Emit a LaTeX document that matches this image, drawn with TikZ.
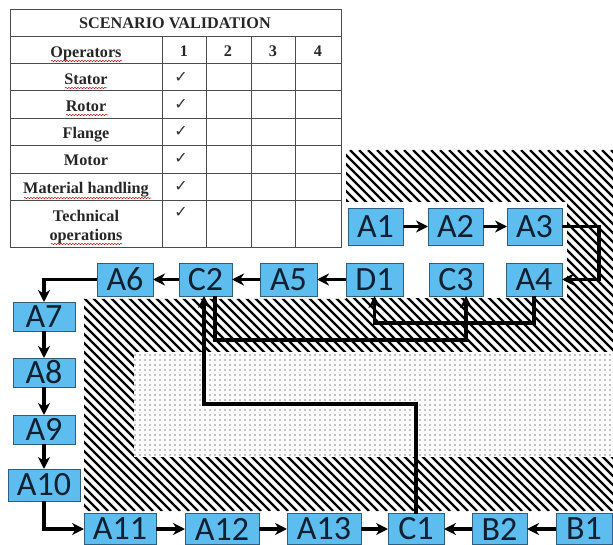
\documentclass[tikz,border=0pt]{standalone}
\usepackage{fontspec}
\setmainfont{Liberation Serif}
\newfontfamily\boxfont{Carlito}
\newfontfamily\tickfont{DejaVu Sans}
\usetikzlibrary{arrows.meta,positioning,patterns.meta,decorations.pathmorphing}
\definecolor{boxblue}{HTML}{5DBDEE}
\definecolor{boxedge}{HTML}{2F5F80}
\definecolor{boxtext}{HTML}{0F2030}

\begin{document}
\begin{tikzpicture}[x=1pt, y=-1pt, >=Stealth, blk/.style={rectangle, draw=boxedge, line width=0.8pt, outer sep=0pt, fill=boxblue, font=\boxfont\fontsize{34}{34}\selectfont, text=boxtext, inner sep=0pt, minimum width=55pt, minimum height=33pt}, wire/.style={line width=3.2pt, -{Stealth[length=12pt,width=12pt]}}, cell/.style={inner sep=0pt, anchor=base, font=\bfseries\fontsize{16.2}{21}\selectfont, align=center, text=black!85}, tick/.style={inner sep=0pt, font=\tickfont\fontsize{16}{16}\selectfont, text=black!80}, squig/.style={draw=red!75!black, line width=0.5pt, decorate, decoration={snake, amplitude=0.6pt, segment length=3pt}}]
\useasboundingbox (0,0) rectangle (613,545);
% zones behind the flow
\begin{scope}
\clip (346,150) -- (613,150) -- (613,511) -- (84,511) -- (84,299) -- (346,299) -- cycle;
\foreach \xa in {-280,-271,...,613} \draw[line width=2.2pt] (\xa,150) -- ++(361,361);
\end{scope}
\fill[white] (346,202) rectangle (567,298);
\fill[white] (134,352) rectangle (613,457);
\fill[pattern={Dots[distance=5pt, radius=0.65pt]}] (134,352) rectangle (613,457);
% table
\draw[black!70, line width=1pt] (10,10) rectangle (341,248);
\foreach \ya in {37,64,91,119,146,174,201} \draw[black!70, line width=1pt] (10,\ya) -- (341,\ya);
\foreach \xa in {162,206,251,295} \draw[black!70, line width=1pt] (\xa,37) -- (\xa,248);
\node[cell] (title) at (175,29) {SCENARIO VALIDATION};
\node[cell] (ops) at (86,58) {Operators};
\node[cell] (n1) at (184,57) {1};
\node[cell] (n2) at (228,57) {2};
\node[cell] (n3) at (273,57) {3};
\node[cell] (n4) at (318,57) {4};
\node[cell] (stator) at (86,85) {Stator};
\node[cell] (rotor) at (86,112) {Rotor};
\node[cell] (flange) at (86,139) {Flange};
\node[cell] (motor) at (86,166) {Motor};
\node[cell] (handling) at (86,194) {Material handling};
\node[cell, anchor=center] (tech) at (86,227.5) {Technical\\[-2pt]operations};
\foreach \ya/\nm in {77/t1,104/t2,131/t3,158/t4,186/t5,212/t6} \node[tick] (\nm) at (181,\ya) {\char"2713};
\draw[squig] (51,61) -- (122,61);
\draw[squig] (65,88) -- (107,88);
\draw[squig] (66,115) -- (108,115);
\draw[squig] (24,198) -- (151,198);
\draw[squig] (51,244) -- (122,244);
% top block
\node[blk, minimum height=37pt] (a1) at (375.5,226.5) {A1};
\node[blk, minimum height=37pt, right=25pt of a1] (a2) {A2};
\node[blk, minimum height=37pt, right=24pt of a2] (a3) {A3};
\node[blk, minimum width=56pt] (a4) at (534,279.5) {A4};
\node[blk, minimum width=54pt, left=23pt of a4] (c3) {C3};
\node[blk, minimum width=57pt, left=26pt of c3] (d1) {D1};
\node[blk, minimum width=57pt, left=29pt of d1] (a5) {A5};
\node[blk, minimum width=53pt, left=28pt of a5] (c2) {C2};
\node[blk, minimum width=56pt, left=26pt of c2] (a6) {A6};
% left column
\node[blk, minimum width=62pt, minimum height=29pt] (a7) at (44,316.5) {A7};
\node[blk, minimum width=62pt, minimum height=29pt, below=27pt of a7] (a8) {A8};
\node[blk, minimum width=62pt, minimum height=29pt, below=28pt of a8] (a9) {A9};
\node[blk, minimum width=72pt, minimum height=32pt] (a10) at (44,485) {A10};
% bottom row
\node[blk, minimum width=72pt, minimum height=31pt] (a11) at (120,529) {A11};
\node[blk, minimum width=74pt, minimum height=31pt, right=29pt of a11] (a12) {A12};
\node[blk, minimum width=74pt, minimum height=31pt, right=28pt of a12] (a13) {A13};
\node[blk, minimum width=56pt, minimum height=31pt, right=27pt of a13] (c1) {C1};
\node[blk, minimum height=31pt, right=28pt of c1] (b2) {B2};
\node[blk, minimum width=56pt, minimum height=31pt, right=29pt of b2] (b1) {B1};
% bends
\coordinate (turn3) at (599,226.5);
\coordinate (low4) at (534,323);
\coordinate (feedc3) at (466,340);
\coordinate (outc2) at (215,296);
\coordinate (inc3) at (466,296);
\coordinate (feedc2) at (204,404);
\coordinate (inc2) at (204,296);
% connectors
\draw[wire] (a1) -- (a2);
\draw[wire] (a2) -- (a3);
\draw[wire] (a3.east) -- (turn3) |- (a4.east);
\draw[wire] (a4.south) -- (low4) -| (d1.south);
\draw[wire] (d1) -- (a5);
\draw[wire] (a5) -- (c2);
\draw[wire] (c2) -- (a6);
\draw[wire] (a6.west) -| (a7.north);
\draw[wire] (a7) -- (a8);
\draw[wire] (a8) -- (a9);
\draw[wire] (a9) -- (a10);
\draw[wire] (a10.south) |- (a11.west);
\draw[wire] (a11) -- (a12);
\draw[wire] (a12) -- (a13);
\draw[wire] (a13) -- (c1);
\draw[wire] (b1) -- (b2);
\draw[wire] (b2) -- (c1);
\draw[wire] (outc2) |- (feedc3) -- (inc3);
\draw[wire] (c1.north) |- (feedc2) -- (inc2);
\end{tikzpicture}
\end{document}
